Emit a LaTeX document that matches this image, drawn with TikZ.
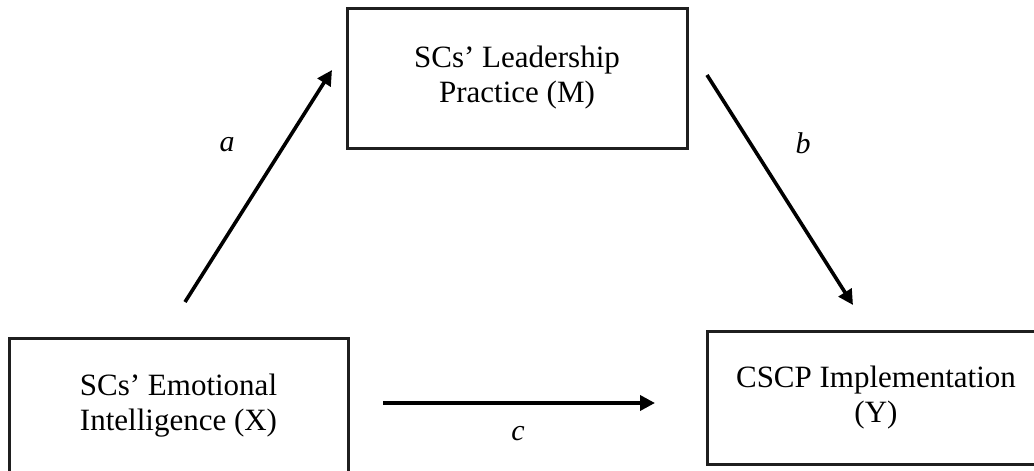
\documentclass[tikz,border=0pt]{standalone}
\usepackage{fontspec}
\setmainfont{Liberation Serif}
\usetikzlibrary{arrows.meta}
\begin{document}
\begin{tikzpicture}[x=1pt,y=-1pt,
  box/.style={draw=black!88,line width=3pt,inner sep=0pt,align=center,
    font=\fontsize{31}{35}\selectfont},
  conn/.style={line width=3.6pt,-{Triangle[length=15pt,width=15pt]}},
  lab/.style={font=\fontsize{30}{34}\selectfont\itshape}]
\useasboundingbox (0,0) rectangle (1034,471);
\clip (0,0) rectangle (1034,471);
\node[box,minimum width=340pt,minimum height=140pt] (M) at (517,78) {SCs’ Leadership\\Practice (M)};
\node[box,minimum width=339pt,minimum height=135pt] (X) at (178.5,405.5) {SCs’ Emotional\\Intelligence (X)};
\node[box,minimum width=338pt,minimum height=133pt] (Y) at (876,397.5) {CSCP Implementation\\(Y)};
\coordinate (aT) at (185,302);
\coordinate (aH) at (332,70);
\coordinate (bT) at (707,75);
\coordinate (bH) at (853,305);
\coordinate (cT) at (383,403);
\coordinate (cH) at (655,403);
\draw[conn] (aT) -- (aH);
\draw[conn] (bT) -- (bH);
\draw[conn] (cT) -- (cH);
\node[lab] (la) at (227,145) {a};
\node[lab] (lb) at (803,143) {b};
\node[lab] (lc) at (518,434) {c};
\end{tikzpicture}
\end{document}
